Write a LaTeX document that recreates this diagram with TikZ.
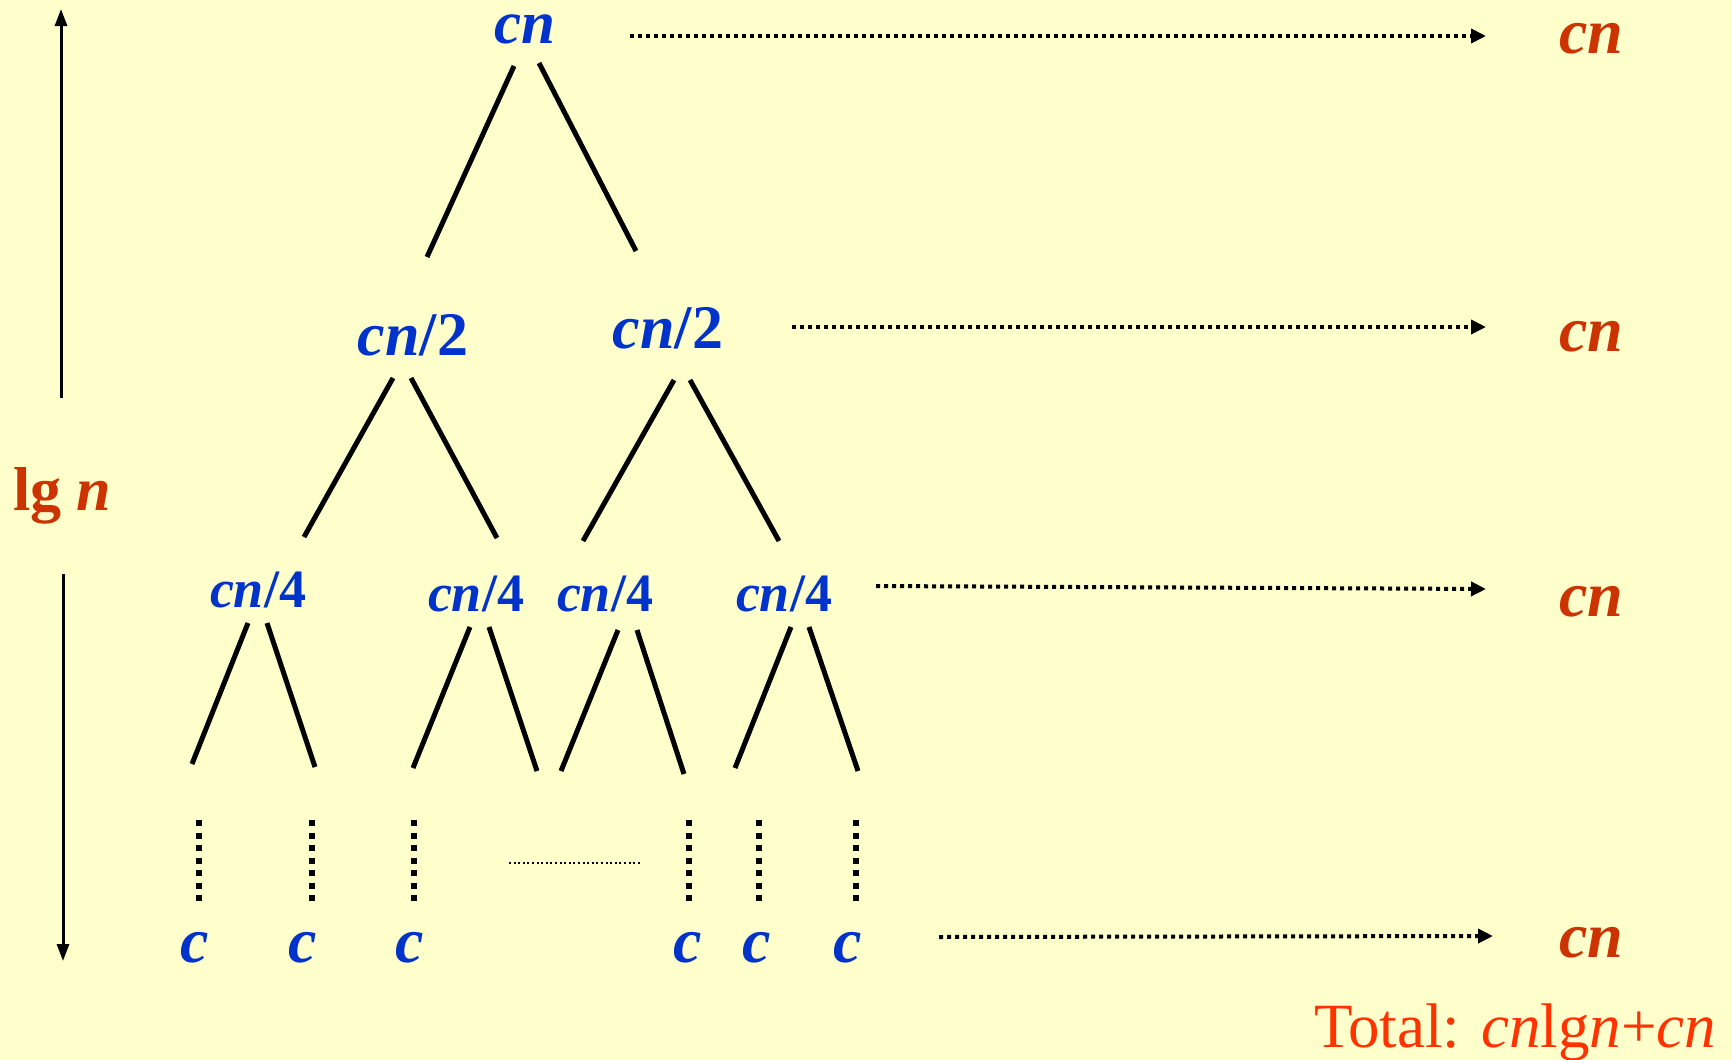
\documentclass[tikz,border=0pt]{standalone}
\usepackage{fontspec}
\setmainfont{Liberation Serif}
\usetikzlibrary{arrows.meta}
\definecolor{bgy}{HTML}{FFFFCC}
\definecolor{tblue}{HTML}{0033CC}
\definecolor{tred}{HTML}{CC3300}
\definecolor{totred}{HTML}{FF3300}
\tikzset{
  lbl/.style={inner sep=0pt, anchor=base, text=tblue, text height=0.68em, text depth=0.05em, font=\bfseries\itshape\fontsize{#1}{#1}\selectfont},
  rowsum/.style={inner sep=0pt, anchor=base, text=tred, font=\bfseries\itshape\fontsize{64}{64}\selectfont},
  edge/.style={line width=5pt, line cap=butt},
  levarrow/.style={line width=4pt, dash pattern=on 4pt off 4pt, -{Triangle[length=15pt,width=14pt]}},
  dimarrow/.style={line width=3pt, -{Triangle[length=17pt,width=12pt]}},
  vdots/.style={line width=6pt, dash pattern=on 6pt off 6.5pt},
  hdots/.style={line width=2pt, dash pattern=on 2pt off 2.6pt}
}
\begin{document}
\begin{tikzpicture}[x=1pt,y=-1pt]
\fill[bgy] (0,0) rectangle (1732,1060);
\useasboundingbox (0,0) rectangle (1732,1060);

% tree labels
\node[lbl=61] (r) at (525,43) {cn};
\node[lbl=62] (a1) at (413,355) {cn\textup{/2}};
\node[lbl=62] (a2) at (668,348) {cn\textup{/2}};
\node[lbl=54] (b1) at (258,607) {cn\textup{/4}};
\node[lbl=54] (b2) at (476,611) {cn\textup{/4}};
\node[lbl=54] (b3) at (605,611) {cn\textup{/4}};
\node[lbl=54] (b4) at (784,611) {cn\textup{/4}};
\foreach \i/\x in {1/195,2/303,3/410,4/688,5/757,6/848}{
  \node[lbl=64] (c\i) at (\x,962) {c};
}

% edge endpoints
\coordinate (rL1) at (514,66);  \coordinate (rL2) at (427,257);
\coordinate (rR1) at (539,63);  \coordinate (rR2) at (636,251);
\coordinate (a1L1) at (393,378); \coordinate (a1L2) at (304,537);
\coordinate (a1R1) at (411,378); \coordinate (a1R2) at (497,538);
\coordinate (a2L1) at (674,380); \coordinate (a2L2) at (583,541);
\coordinate (a2R1) at (690,380); \coordinate (a2R2) at (779,541);
\coordinate (b1L1) at (248,623); \coordinate (b1L2) at (192,764);
\coordinate (b1R1) at (267,623); \coordinate (b1R2) at (315,767);
\coordinate (b2L1) at (470,627); \coordinate (b2L2) at (413,768);
\coordinate (b2R1) at (489,627); \coordinate (b2R2) at (537,771);
\coordinate (b3L1) at (618,630); \coordinate (b3L2) at (561,771);
\coordinate (b3R1) at (637,630); \coordinate (b3R2) at (684,774);
\coordinate (b4L1) at (791,627); \coordinate (b4L2) at (735,768);
\coordinate (b4R1) at (809,627); \coordinate (b4R2) at (858,771);
\foreach \n in {r,a1,a2,b1,b2,b3,b4}{
  \draw[edge] (\n L1) -- (\n L2);
  \draw[edge] (\n R1) -- (\n R2);
}

% vertical dotted continuation
\foreach \i/\x in {1/199,2/312,3/414,4/689,5/759,6/856}{
  \coordinate (v\i t) at (\x,820);
  \coordinate (v\i b) at (\x,903);
  \draw[vdots] (v\i t) -- (v\i b);
}
\coordinate (hd1) at (509,863); \coordinate (hd2) at (642,863);
\draw[hdots] (hd1) -- (hd2);

% row sums
\node[rowsum] (s1) at (1591,53) {cn};
\node[rowsum] (s2) at (1591,351) {cn};
\node[rowsum] (s3) at (1591,616) {cn};
\node[rowsum] (s4) at (1591,957) {cn};

\coordinate (p1a) at (630,36);  \coordinate (p1b) at (1486,36);
\coordinate (p2a) at (792,327); \coordinate (p2b) at (1486,327);
\coordinate (p3a) at (876,586); \coordinate (p3b) at (1486,589);
\coordinate (p4a) at (939,937); \coordinate (p4b) at (1493,936);
\draw[levarrow] (p1a) -- (p1b);
\draw[levarrow] (p2a) -- (p2b);
\draw[levarrow] (p3a) -- (p3b);
\draw[levarrow] (p4a) -- (p4b);

% height arrows
\node[inner sep=0pt, anchor=base west, text=tred, font=\bfseries\fontsize{62}{62}\selectfont] (lg) at (13,510) {lg \textit{n}};
\coordinate (u1) at (61,398); \coordinate (u2) at (61,9);
\coordinate (d1) at (63,574); \coordinate (d2) at (63,961);
\draw[dimarrow] (u1) -- (u2);
\draw[dimarrow] (d1) -- (d2);

% total
\node[inner sep=0pt, anchor=base west, text=totred, font=\fontsize{63}{63}\selectfont] (tot) at (1314,1047) {Total: \textit{cn}lg\textit{n}+\textit{cn}};
\end{tikzpicture}
\end{document}
